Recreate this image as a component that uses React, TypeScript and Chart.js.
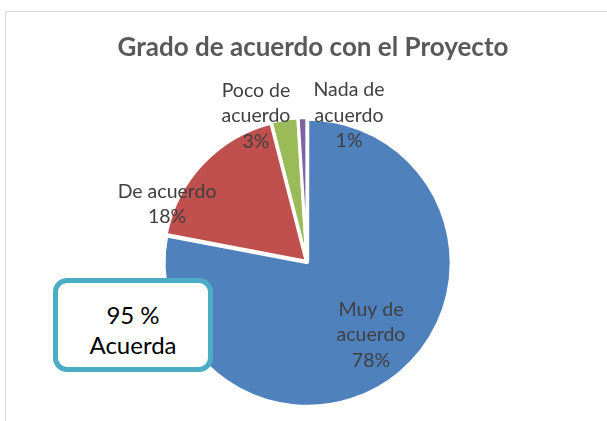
import React, { useEffect, useRef } from "react";
import { Chart, registerables } from "chart.js";

Chart.register(...registerables);

const TITLE = "Grado de acuerdo con el Proyecto";
const CATEGORIES = ["Muy de acuerdo", "De acuerdo", "Poco de acuerdo", "Nada de acuerdo"];
const LABEL_LINES = [["Muy de", "acuerdo", "78%"], ["De acuerdo", "18%"], ["Poco de", "acuerdo", "3%"], ["Nada de", "acuerdo", "1%"]];
const VALUES = [78, 18, 3, 1];
const COLORS = ["#4F81BD", "#C0504D", "#9BBB59", "#8064A2"];
const OFFSETS = [4, 4, 4, 4];
// label anchor, in units of the pie radius, relative to the pie centre
const LABEL_POS = [[0.449, 0.512], [-0.982, -0.407], [-0.358, -1.025], [0.295, -1.03]];
const NOTE_LINES = ["95 %", "Acuerda"];

const FONT = "Lato, 'Open Sans', sans-serif";

const labelPlugin = {
  id: "pieLabels",
  afterDraw(chart: any) {
    const ctx = chart.ctx;
    const meta = chart.getDatasetMeta(0);
    const arc0 = meta.data[0];
    if (!arc0) return;
    const cx = (chart.chartArea.left + chart.chartArea.right) / 2;
    const cy = (chart.chartArea.top + chart.chartArea.bottom) / 2;
    const r = arc0.outerRadius;
    ctx.save();
    // title
    ctx.fillStyle = "#595959";
    ctx.font = `bold 26px ${FONT}`;
    ctx.textAlign = "center";
    ctx.textBaseline = "middle";
    ctx.fillText(TITLE, cx + 6, 48);
    // labels
    ctx.fillStyle = "#404040";
    ctx.font = `19.5px ${FONT}`;
    const lh = 25.5;
    LABEL_LINES.forEach((lines, i) => {
      const x = cx + LABEL_POS[i][0] * r;
      const y = cy + LABEL_POS[i][1] * r;
      const y0 = y - ((lines.length - 1) * lh) / 2;
      lines.forEach((t, j) => ctx.fillText(t, x, y0 + j * lh));
    });
    ctx.restore();
  },
};

export default function App() {
  const ref = useRef<HTMLCanvasElement>(null);
  useEffect(() => {
    if (!ref.current) return;
    const chart = new Chart(ref.current, {
      type: "pie",
      data: {
        labels: CATEGORIES,
        datasets: [
          {
            data: VALUES,
            backgroundColor: COLORS,
            borderColor: "#ffffff",
            borderWidth: 3,
            offset: OFFSETS,
          },
        ],
      },
      options: {
        animation: false,
        responsive: false,
        layout: { padding: { left: 161, top: 116, right: 154, bottom: 13 } },
        plugins: { legend: { display: false }, tooltip: { enabled: false }, title: { display: false } },
      },
      plugins: [labelPlugin],
    });
    return () => chart.destroy();
  }, []);

  return (
    <div style={{ position: "fixed", left: 0, top: 0, width: 607, height: 421, overflow: "hidden", background: "#fff" }}>
      <div style={{ position: "absolute", left: 5, top: 11, width: 800, height: 600, border: "1px solid #d9d9d9", boxSizing: "border-box" }} />
      <canvas ref={ref} width={607} height={421} style={{ position: "absolute", left: 0, top: 0, width: 607, height: 421 }} />
      <div
        style={{
          position: "absolute",
          left: 53,
          top: 278,
          width: 160,
          height: 94,
          boxSizing: "border-box",
          border: "5px solid #4BACC6",
          borderRadius: 14,
          background: "#fff",
          paddingTop: 17,
          textAlign: "center",
          fontFamily: FONT,
          fontSize: 24,
          lineHeight: "30px",
          color: "#000",
        }}
      >
        {NOTE_LINES.map((t) => (
          <div key={t}>{t}</div>
        ))}
      </div>
    </div>
  );
}
